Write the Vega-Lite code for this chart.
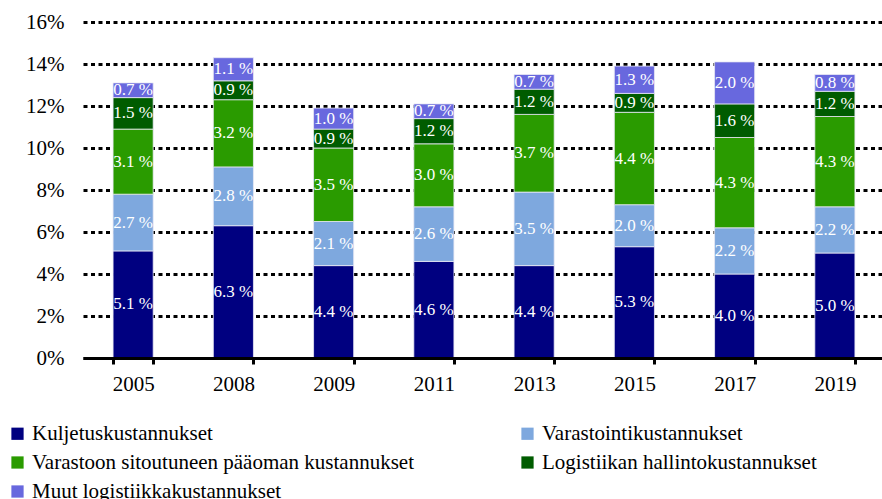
{
  "$schema": "https://vega.github.io/schema/vega-lite/v6.json",
  "width": 802,
  "height": 336,
  "autosize": {"type": "none"},
  "padding": {"left": 83, "top": 22, "right": 0, "bottom": 141},
  "background": "white",
  "config": {"font": "Liberation Serif", "view": {"stroke": null}, "text": {"font": "Liberation Serif"}},
  "data": {
    "values": [
      {"year": "2005", "cat": "Kuljetuskustannukset", "k": 1, "v": 5.1, "label": "5.1 %"},
      {"year": "2005", "cat": "Varastointikustannukset", "k": 2, "v": 2.7, "label": "2.7 %"},
      {"year": "2005", "cat": "Varastoon sitoutuneen pääoman kustannukset", "k": 3, "v": 3.1, "label": "3.1 %"},
      {"year": "2005", "cat": "Logistiikan hallintokustannukset", "k": 4, "v": 1.5, "label": "1.5 %"},
      {"year": "2005", "cat": "Muut logistiikkakustannukset", "k": 5, "v": 0.7, "label": "0.7 %"},
      {"year": "2008", "cat": "Kuljetuskustannukset", "k": 1, "v": 6.3, "label": "6.3 %"},
      {"year": "2008", "cat": "Varastointikustannukset", "k": 2, "v": 2.8, "label": "2.8 %"},
      {"year": "2008", "cat": "Varastoon sitoutuneen pääoman kustannukset", "k": 3, "v": 3.2, "label": "3.2 %"},
      {"year": "2008", "cat": "Logistiikan hallintokustannukset", "k": 4, "v": 0.9, "label": "0.9 %"},
      {"year": "2008", "cat": "Muut logistiikkakustannukset", "k": 5, "v": 1.1, "label": "1.1 %"},
      {"year": "2009", "cat": "Kuljetuskustannukset", "k": 1, "v": 4.4, "label": "4.4 %"},
      {"year": "2009", "cat": "Varastointikustannukset", "k": 2, "v": 2.1, "label": "2.1 %"},
      {"year": "2009", "cat": "Varastoon sitoutuneen pääoman kustannukset", "k": 3, "v": 3.5, "label": "3.5 %"},
      {"year": "2009", "cat": "Logistiikan hallintokustannukset", "k": 4, "v": 0.9, "label": "0.9 %"},
      {"year": "2009", "cat": "Muut logistiikkakustannukset", "k": 5, "v": 1.0, "label": "1.0 %"},
      {"year": "2011", "cat": "Kuljetuskustannukset", "k": 1, "v": 4.6, "label": "4.6 %"},
      {"year": "2011", "cat": "Varastointikustannukset", "k": 2, "v": 2.6, "label": "2.6 %"},
      {"year": "2011", "cat": "Varastoon sitoutuneen pääoman kustannukset", "k": 3, "v": 3.0, "label": "3.0 %"},
      {"year": "2011", "cat": "Logistiikan hallintokustannukset", "k": 4, "v": 1.2, "label": "1.2 %"},
      {"year": "2011", "cat": "Muut logistiikkakustannukset", "k": 5, "v": 0.7, "label": "0.7 %"},
      {"year": "2013", "cat": "Kuljetuskustannukset", "k": 1, "v": 4.4, "label": "4.4 %"},
      {"year": "2013", "cat": "Varastointikustannukset", "k": 2, "v": 3.5, "label": "3.5 %"},
      {"year": "2013", "cat": "Varastoon sitoutuneen pääoman kustannukset", "k": 3, "v": 3.7, "label": "3.7 %"},
      {"year": "2013", "cat": "Logistiikan hallintokustannukset", "k": 4, "v": 1.2, "label": "1.2 %"},
      {"year": "2013", "cat": "Muut logistiikkakustannukset", "k": 5, "v": 0.7, "label": "0.7 %"},
      {"year": "2015", "cat": "Kuljetuskustannukset", "k": 1, "v": 5.3, "label": "5.3 %"},
      {"year": "2015", "cat": "Varastointikustannukset", "k": 2, "v": 2.0, "label": "2.0 %"},
      {"year": "2015", "cat": "Varastoon sitoutuneen pääoman kustannukset", "k": 3, "v": 4.4, "label": "4.4 %"},
      {"year": "2015", "cat": "Logistiikan hallintokustannukset", "k": 4, "v": 0.9, "label": "0.9 %"},
      {"year": "2015", "cat": "Muut logistiikkakustannukset", "k": 5, "v": 1.3, "label": "1.3 %"},
      {"year": "2017", "cat": "Kuljetuskustannukset", "k": 1, "v": 4.0, "label": "4.0 %"},
      {"year": "2017", "cat": "Varastointikustannukset", "k": 2, "v": 2.2, "label": "2.2 %"},
      {"year": "2017", "cat": "Varastoon sitoutuneen pääoman kustannukset", "k": 3, "v": 4.3, "label": "4.3 %"},
      {"year": "2017", "cat": "Logistiikan hallintokustannukset", "k": 4, "v": 1.6, "label": "1.6 %"},
      {"year": "2017", "cat": "Muut logistiikkakustannukset", "k": 5, "v": 2.0, "label": "2.0 %"},
      {"year": "2019", "cat": "Kuljetuskustannukset", "k": 1, "v": 5.0, "label": "5.0 %"},
      {"year": "2019", "cat": "Varastointikustannukset", "k": 2, "v": 2.2, "label": "2.2 %"},
      {"year": "2019", "cat": "Varastoon sitoutuneen pääoman kustannukset", "k": 3, "v": 4.3, "label": "4.3 %"},
      {"year": "2019", "cat": "Logistiikan hallintokustannukset", "k": 4, "v": 1.2, "label": "1.2 %"},
      {"year": "2019", "cat": "Muut logistiikkakustannukset", "k": 5, "v": 0.8, "label": "0.8 %"}
    ]
  },
  "transform": [
    {"stack": "v", "groupby": ["year"], "sort": [{"field": "k", "order": "ascending"}], "as": ["y0", "y1"]},
    {"calculate": "(datum.y0 + datum.y1) / 2", "as": "ym"}
  ],
  "encoding": {
    "x": {
      "field": "year",
      "type": "nominal",
      "scale": {"paddingInner": 0.6, "paddingOuter": 0.3},
      "axis": {
        "title": null,
        "labelAngle": 0,
        "labelFontSize": 21,
        "labelFont": "Liberation Serif",
        "labelColor": "black",
        "labelPadding": 9,
        "domain": true,
        "domainColor": "black",
        "domainWidth": 3,
        "ticks": true,
        "tickBand": "extent",
        "tickColor": "black",
        "tickWidth": 3,
        "tickSize": 6,
        "grid": false,
        "zindex": 1
      }
    }
  },
  "layer": [
    {
      "mark": {"type": "bar", "stroke": "#e8e8f4", "strokeWidth": 0.8},
      "encoding": {
        "y": {
          "field": "y0",
          "type": "quantitative",
          "scale": {"domain": [0, 16], "nice": false},
          "axis": {
            "title": null,
            "values": [0, 2, 4, 6, 8, 10, 12, 14, 16],
            "labelExpr": "datum.value + '%'",
            "labelFontSize": 21,
            "labelFont": "Liberation Serif",
            "labelColor": "black",
            "labelPadding": 19,
            "domain": false,
            "ticks": false,
            "grid": true,
            "gridColor": "black",
            "gridWidth": 3,
            "gridDash": [4, 3.5],
            "gridOpacity": 1
          }
        },
        "y2": {"field": "y1"},
        "color": {
          "field": "cat",
          "type": "nominal",
          "scale": {
            "domain": ["Kuljetuskustannukset", "Varastointikustannukset", "Varastoon sitoutuneen pääoman kustannukset", "Logistiikan hallintokustannukset", "Muut logistiikkakustannukset"],
            "range": ["#000080", "#7EA8DE", "#2A9B00", "#005C00", "#6868DE"]
          },
          "legend": {
            "title": null,
            "orient": "none",
            "direction": "horizontal",
            "legendX": -76,
            "legendY": 401,
            "columns": 2,
            "columnPadding": 103,
            "rowPadding": 7,
            "symbolType": "square",
            "symbolSize": 150,
            "symbolStrokeWidth": 0,
            "symbolOpacity": 1,
            "labelFontSize": 21,
            "labelFont": "Liberation Serif",
            "labelColor": "black",
            "labelOffset": 4,
            "labelLimit": 0
          }
        }
      }
    },
    {
      "mark": {"type": "text", "color": "white", "font": "Liberation Serif", "fontSize": 17, "baseline": "middle", "align": "center"},
      "encoding": {
        "y": {"field": "ym", "type": "quantitative"},
        "text": {"field": "label"}
      }
    }
  ]
}
